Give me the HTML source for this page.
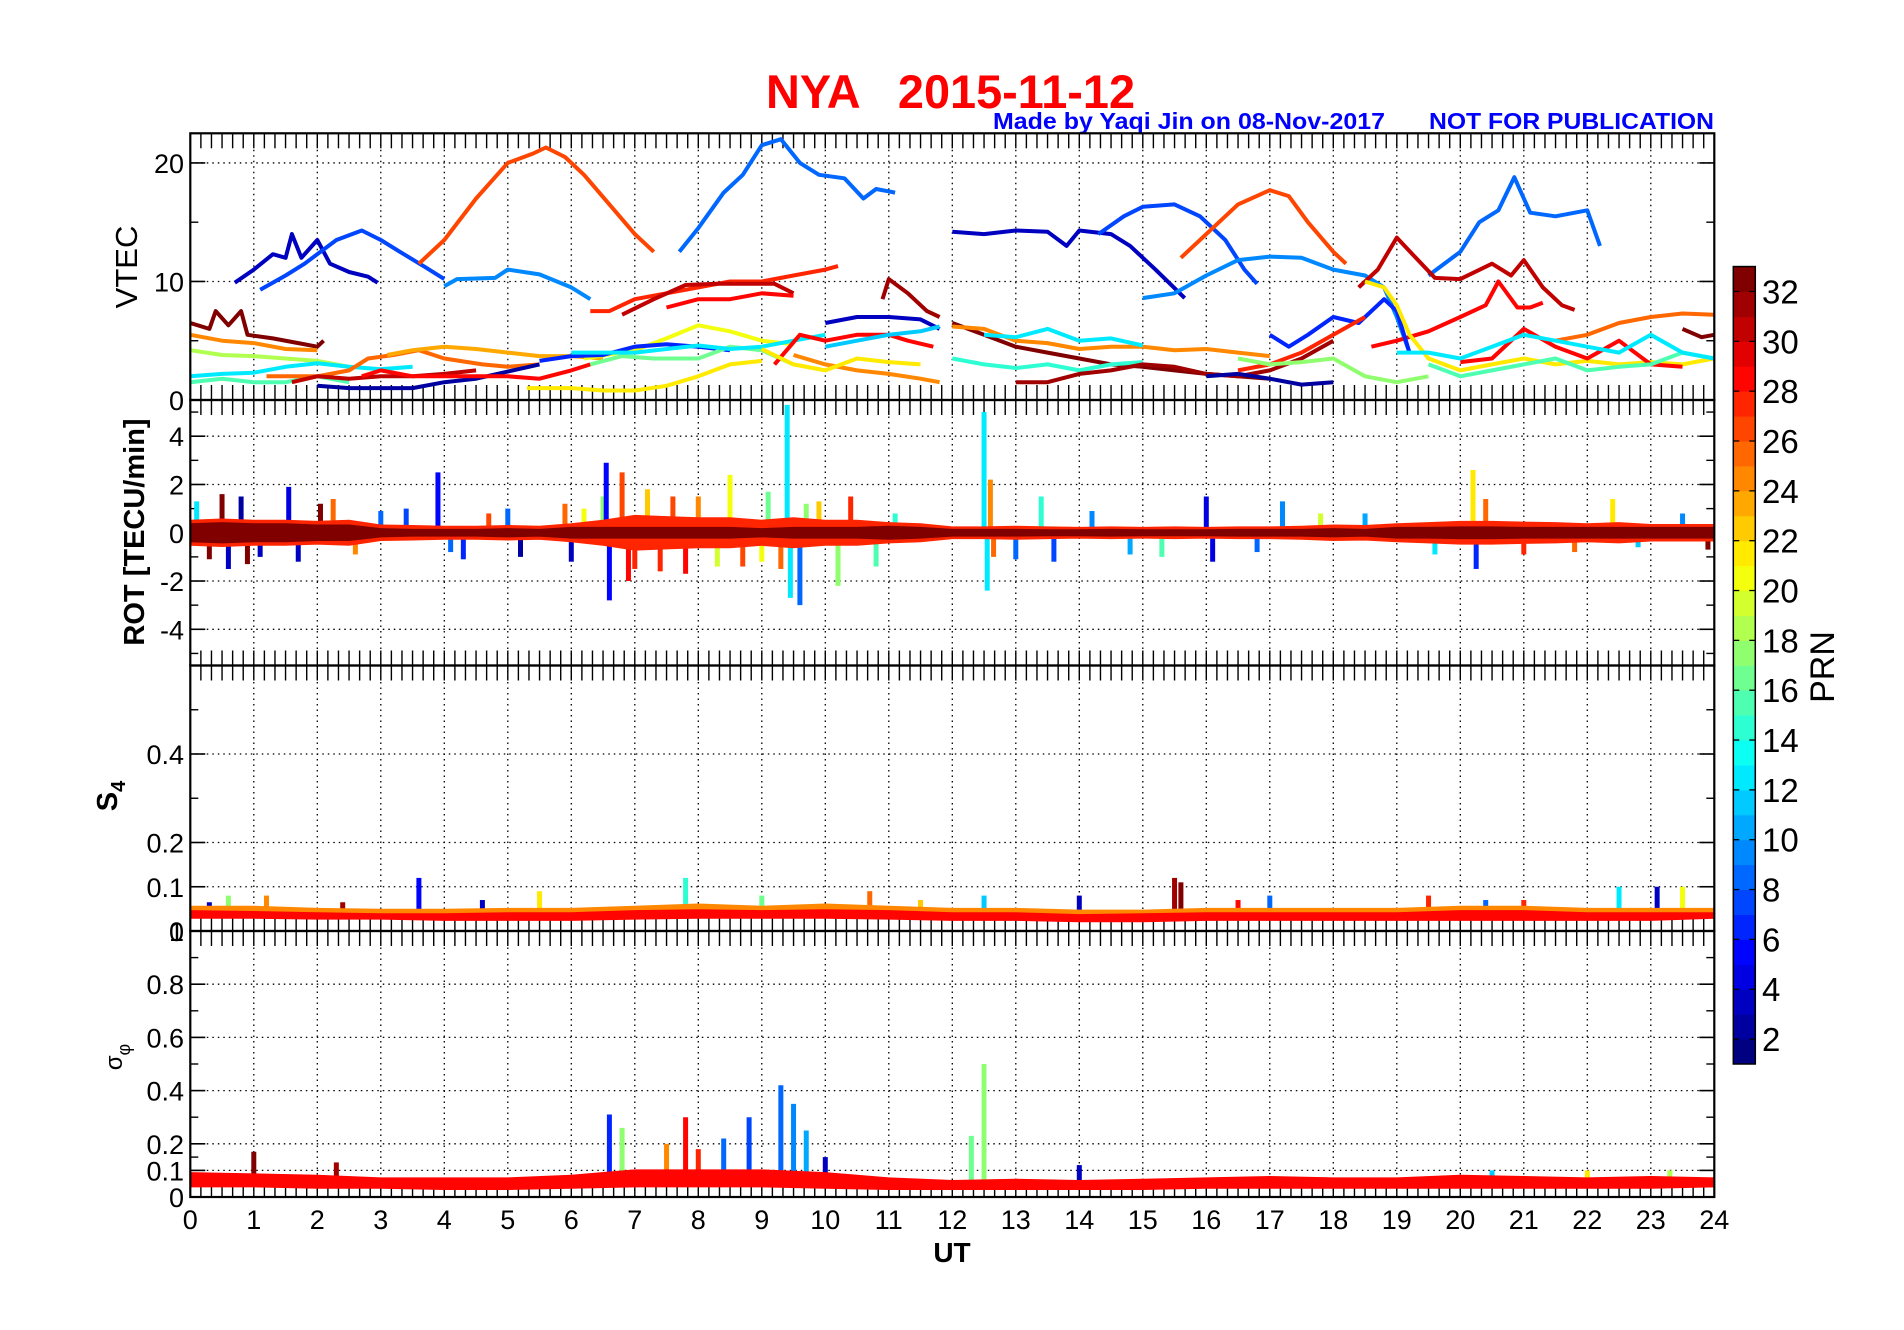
<!DOCTYPE html>
<html><head><meta charset="utf-8"><style>
html,body{margin:0;padding:0;background:#fff;}
svg{display:block;font-family:"Liberation Sans",Arial,sans-serif;}
</style></head><body>
<svg id="fig" width="1904" height="1330" viewBox="0 0 1904 1330" xmlns="http://www.w3.org/2000/svg">
<rect width="1904" height="1330" fill="#fff"/>
<text x="766" y="108" font-size="47" font-weight="bold" fill="#ff0000" textLength="369" lengthAdjust="spacingAndGlyphs" xml:space="preserve">NYA   2015-11-12</text>
<text x="993" y="129" font-size="23" font-weight="bold" fill="#0000ff" textLength="392" lengthAdjust="spacingAndGlyphs">Made by Yaqi Jin on 08-Nov-2017</text>
<text x="1429" y="129" font-size="23" font-weight="bold" fill="#0000ff" textLength="285" lengthAdjust="spacingAndGlyphs">NOT FOR PUBLICATION</text>
<g id="layer"></g>
</svg>
<script>
// ---------- data ----------
const xTickLabels = ["0","1","2","3","4","5","6","7","8","9","10","11","12","13","14","15","16","17","18","19","20","21","22","23","24"];
const vtecTicks = [0,10,20];
const rotTicks = [-4,-2,0,2,4];
const s4Ticks = [0,0.1,0.2,0.4];
const phiTicks = [0,0.1,0.2,0.4,0.6,0.8,1];
const cbarTicks = [2,4,6,8,10,12,14,16,18,20,22,24,26,28,30,32];

// VTEC tracks: PRN + [hour, TECU] points
const vtecPrn = [3,7,26,9,8,27,30,28,31,3,7,9,26,8,30,28,6,
  32,24,18,12,15,25,23,30,2,28,21,20,6,16,12,3,24,28,21,11,
  32,24,14,12,31,2,27,17,21,25,28,15,12,32];
const vtecTracks = [
 [[0.7,9.9],[1.0,11],[1.3,12.3],[1.5,12],[1.6,14],[1.75,12],[2.0,13.5],[2.2,11.5],[2.5,10.8],[2.8,10.4],[2.95,9.9]],
 [[1.1,9.3],[1.5,10.5],[1.8,11.5],[2.0,12.3],[2.3,13.5],[2.7,14.3],[3.0,13.5],[3.3,12.5],[3.7,11.2],[4.0,10.2]],
 [[3.6,11.5],[4.0,13.5],[4.5,17],[5.0,20],[5.4,20.8],[5.6,21.3],[5.9,20.5],[6.2,19],[6.6,16.5],[7.0,14],[7.3,12.5]],
 [[4.0,9.6],[4.2,10.2],[4.8,10.3],[5.0,11],[5.5,10.6],[6.0,9.5],[6.3,8.5]],
 [[7.7,12.5],[8.0,14.5],[8.4,17.5],[8.7,19],[9.0,21.5],[9.3,22],[9.6,20],[9.9,19],[10.3,18.7],[10.6,17],[10.8,17.8],[11.1,17.5]],
 [[6.3,7.5],[6.6,7.5],[7.0,8.5],[7.5,9],[8.0,9.5],[8.5,10],[9.0,10],[9.5,10.5],[10.0,11],[10.2,11.3]],
 [[6.8,7.2],[7.3,8.5],[7.8,9.7],[8.3,9.8],[8.8,9.8],[9.2,9.8],[9.5,9]],
 [[7.5,7.8],[8.0,8.5],[8.5,8.5],[9.0,9],[9.5,8.8]],
 [[10.9,8.5],[11.0,10.2],[11.3,9],[11.6,7.5],[11.8,7]],
 [[12.0,14.2],[12.5,14],[13.0,14.3],[13.5,14.2],[13.8,13],[14.0,14.3],[14.5,14],[14.8,13],[15.2,11],[15.66,8.6]],
 [[14.3,14],[14.7,15.5],[15.0,16.3],[15.5,16.5],[15.9,15.5],[16.3,13.5],[16.6,11],[16.8,9.8]],
 [[15.0,8.6],[15.5,9],[16.0,10.5],[16.5,11.8],[17.0,12.1],[17.5,12],[18.0,11],[18.5,10.5],[18.8,9.5],[19.0,7],[19.2,4]],
 [[15.6,12],[16.0,14],[16.5,16.5],[17.0,17.7],[17.3,17.2],[17.6,15],[18.0,12.5],[18.2,11.5]],
 [[19.5,10.5],[20.0,12.5],[20.3,15],[20.6,16],[20.85,18.8],[21.1,15.8],[21.5,15.5],[22.0,16],[22.2,13]],
 [[18.4,9.5],[18.7,11],[19.0,13.7],[19.3,12],[19.6,10.3],[20.0,10.2],[20.5,11.5],[20.8,10.5],[21.0,11.8],[21.3,9.5],[21.6,8],[21.8,7.6]],
 [[18.6,4.5],[19.0,5],[19.5,5.8],[20.0,7],[20.4,8],[20.6,10],[20.9,7.8],[21.1,7.8],[21.3,8.2]],
 [[17.0,5.5],[17.3,4.5],[17.6,5.5],[18.0,7],[18.4,6.5],[18.8,8.5],[19.0,7.5],[19.2,4]],
 [[0,6.5],[0.3,6],[0.4,7.5],[0.6,6.3],[0.8,7.5],[0.9,5.5],[1.3,5.2],[1.7,4.8],[2.0,4.5],[2.1,5]],
 [[0,5.5],[0.5,5],[1.0,4.8],[1.5,4.3],[2.0,4.2]],
 [[0,4.2],[0.5,3.8],[1.0,3.7],[1.5,3.5],[2.0,3.3],[2.5,2.8]],
 [[0,2],[0.5,2.2],[1,2.3],[1.5,2.8],[2,3.1],[2.5,2.8],[3,2.6],[3.5,2.8]],
 [[0,1.5],[0.5,1.8],[1,1.5],[1.5,1.5],[2,2],[2.5,1.5]],
 [[1.2,2],[2,2],[2.5,2.5],[2.8,3.5],[3.2,3.8],[3.6,4.2],[4.0,3.5],[4.6,3],[5.0,2.8],[5.5,3]],
 [[3.1,3.8],[3.5,4.2],[4.0,4.5],[4.5,4.3],[5.0,4],[5.5,3.7],[6.0,3.7],[6.5,3.5]],
 [[1.6,1.5],[2.0,2.0],[2.5,1.8],[3,2],[3.5,2],[4.0,2.2],[4.5,2.5]],
 [[2,1.2],[2.5,1],[3,1],[3.5,1],[4.0,1.5],[4.5,1.8],[5.0,2.4],[5.5,3]],
 [[2.7,2],[3.0,2.5],[3.5,2],[4.0,2],[5.0,2],[5.5,1.8],[6,2.5],[6.3,3]],
 [[5.3,1],[6,1],[6.5,0.8],[7,0.8],[7.5,1.2],[8,2],[8.5,3],[9,3.3]],
 [[6.2,3.5],[7,4.2],[7.5,5.2],[8,6.3],[8.5,5.8],[9,5],[9.5,4.7]],
 [[5.5,3.3],[6,3.7],[6.5,3.8],[7,4.5],[7.5,4.7],[8,4.5],[8.5,4.2]],
 [[6.3,3],[6.8,3.7],[7.3,3.5],[8,3.5],[8.5,4.5],[9,4.2],[9.5,3]],
 [[6,4],[7,4],[7.5,4.3],[8,4.6],[8.5,4.3],[9,4.5],[9.5,5],[10,5.5]],
 [[10,6.5],[10.5,7],[11,7],[11.5,6.8],[11.8,6]],
 [[9.5,3.8],[10,3],[10.5,2.5],[11,2.2],[11.5,1.8],[11.8,1.5]],
 [[9.2,3],[9.6,5.5],[10,5],[10.5,5.5],[11,5.5],[11.3,5],[11.7,4.5]],
 [[9,4.3],[9.5,3],[10,2.5],[10.5,3.5],[11,3.2],[11.5,3]],
 [[10,4.5],[10.5,5],[11,5.5],[11.5,5.8],[11.8,6.2]],
 [[12,6.5],[12.5,5.5],[13,4.5],[13.5,4],[14,3.5],[14.5,3],[15,2.8],[15.5,2.5],[16,2.2],[16.5,2],[17,1.8]],
 [[12,6.2],[12.5,6],[13,5],[13.5,4.8],[14,4.3],[14.5,4.5],[15,4.5],[15.5,4.2],[16,4.3],[16.5,4],[17,3.7]],
 [[12,3.5],[12.5,3],[13,2.7],[13.5,3],[14,2.5],[14.5,3],[15,3.2]],
 [[12.5,5.5],[13,5.3],[13.5,6],[14,5],[14.5,5.2],[15,4.6]],
 [[13,1.5],[13.5,1.5],[14,2.2],[14.5,2.5],[15,3],[15.5,2.8],[16,2.2],[16.5,2],[17,2.5],[17.5,3.5],[18,5]],
 [[16,2],[16.5,2.2],[17,1.8],[17.5,1.3],[18,1.5]],
 [[16.5,2.5],[17,3],[17.5,4],[18,5.5],[18.5,7]],
 [[16.5,3.5],[17,3],[17.5,3.2],[18,3.5],[18.5,2],[19,1.5],[19.5,2]],
 [[18.5,10],[18.8,9.5],[19,8],[19.2,5.5],[19.5,3.5],[20,2.5],[20.5,3],[21,3.5],[21.5,3],[22,3.3],[22.5,3],[23,3.2],[23.5,3],[24,3.5]],
 [[21.5,5],[22,5.5],[22.5,6.5],[23,7],[23.5,7.3],[24,7.2]],
 [[20,3.2],[20.5,3.5],[21,6],[21.5,4.5],[22,3.5],[22.5,5],[23,3],[23.5,2.8]],
 [[19.5,3],[20,2],[20.5,2.5],[21,3],[21.5,3.5],[22,2.5],[22.5,2.8],[23,3],[23.5,4],[24,3.5]],
 [[19,4],[19.5,4],[20,3.5],[20.5,4.5],[21,5.5],[21.5,5],[22,4.5],[22.5,4],[23,5.5],[23.5,4],[24,3.5]],
 [[23.5,6],[23.8,5.3],[24,5.5]]
];

// ROT band amplitudes every half hour (0..24)
const rotAmpRed = [0.5,0.55,0.5,0.5,0.45,0.5, 0.3,0.28,0.25,0.25,0.28,0.25, 0.35,0.5,0.7,0.65,0.6,0.6,0.5,0.6,0.5,0.5, 0.4,0.35, 0.22,0.22,0.25,0.22,0.2,0.22,0.2,0.22,0.2,0.22,0.22,0.25,0.3,0.28, 0.35,0.4,0.45,0.45,0.42,0.4,0.35,0.4,0.32,0.32, 0.32];
const rotAmpDark = [0.35,0.4,0.35,0.35,0.3,0.3, 0.15,0.12,0.12,0.12,0.15,0.12, 0.2,0.2,0.2,0.2,0.2,0.2,0.15,0.2,0.2,0.2, 0.25,0.2, 0.12,0.12,0.12,0.1,0.1,0.12,0.1,0.1,0.1,0.12,0.12,0.12,0.15,0.12, 0.2,0.2,0.22,0.22,0.2,0.2,0.2,0.2,0.2,0.2, 0.2];
const rotSpikeT = [0.1,0.3,0.5,0.6,0.8,0.9,1.1,1.55,1.7,2.05,2.25,2.6,3.0,3.4,3.9,4.1,4.3,4.7,5.0,5.2,5.9,6.0,6.2,6.5,6.55,6.6,6.8,6.9,7.0,7.2,7.4,7.6,7.8,8.0,8.3,8.5,8.7,9.0,9.1,9.3,9.4,9.45,9.6,9.7,9.9,10.2,10.4,10.8,11.1,12.5,12.55,12.6,12.65,13.0,13.4,13.6,14.2,14.8,15.3,16.0,16.1,16.8,17.2,17.8,18.5,19.6,20.2,20.25,20.4,21.0,21.8,22.4,22.8,23.5,23.9];
const rotSpikeV = [1.3,-1.1,1.6,-1.5,1.5,-1.3,-1.0,1.9,-1.2,1.2,1.4,-0.9,0.9,1.0,2.5,-0.8,-1.1,0.8,1.0,-1.0,1.2,-1.2,1.0,1.5,2.9,-2.8,2.5,-2.0,-1.5,1.8,-1.6,1.5,-1.7,1.5,-1.4,2.4,-1.4,-1.2,1.7,-1.5,5.3,-2.7,-3.0,1.2,1.3,-2.2,1.5,-1.4,0.8,5.0,-2.4,2.2,-1.0,-1.1,1.5,-1.2,0.9,-0.9,-1.0,1.5,-1.2,-0.8,1.3,0.8,0.8,-0.9,2.6,-1.5,1.4,-0.9,-0.8,1.4,-0.6,0.8,-0.7];
const rotSpikePrn = [12,32,32,3,2,32,3,4,3,32,25,24,8,7,5,8,6,26,8,2,25,3,20,17,5,5,26,28,27,22,27,26,28,24,19,20,26,20,16,25,12,12,8,17,22,17,27,15,14,12,12,24,25,8,14,7,9,10,15,4,4,8,9,19,10,12,21,6,25,27,25,21,11,9,32];

// S4 bands (hourly) and spikes
const s4OrangeLo = [0.035,0.035,0.033,0.033,0.03,0.03,0.03,0.033,0.035,0.035,0.035,0.033,0.03,0.03,0.028,0.028,0.03,0.03,0.03,0.03,0.03,0.03,0.03,0.03,0.035];
const s4OrangeHi = [0.055,0.055,0.05,0.048,0.048,0.05,0.05,0.055,0.06,0.055,0.06,0.055,0.05,0.05,0.046,0.046,0.05,0.05,0.05,0.05,0.055,0.055,0.05,0.05,0.05];
const s4RedLo = [0.03,0.03,0.028,0.028,0.025,0.025,0.025,0.028,0.03,0.03,0.03,0.028,0.025,0.025,0.022,0.022,0.025,0.025,0.025,0.025,0.025,0.025,0.025,0.025,0.03];
const s4RedHi = [0.045,0.043,0.04,0.038,0.038,0.04,0.04,0.045,0.047,0.045,0.047,0.045,0.04,0.04,0.036,0.038,0.04,0.04,0.04,0.04,0.045,0.045,0.04,0.04,0.04];
const s4SpikeT = [0.3,0.6,1.2,2.4,3.6,4.6,5.5,7.8,9.0,10.7,11.5,12.5,14.0,15.5,15.6,16.5,17.0,19.5,20.4,21.0,22.5,23.1,23.5];
const s4SpikeV = [0.065,0.08,0.08,0.065,0.12,0.07,0.09,0.12,0.08,0.09,0.07,0.08,0.08,0.12,0.11,0.07,0.08,0.08,0.07,0.07,0.1,0.1,0.1];
const s4SpikePrn = [3,17,24,31,5,3,21,14,16,25,22,11,3,31,32,28,8,27,8,27,12,3,20];

// sigma-phi bands (hourly) and spikes
const phiLo = [0.04,0.04,0.035,0.035,0.03,0.03,0.035,0.04,0.04,0.04,0.035,0.03,0.03,0.03,0.03,0.03,0.035,0.035,0.035,0.035,0.035,0.035,0.035,0.035,0.04];
const phiHi = [0.09,0.085,0.08,0.07,0.07,0.07,0.08,0.1,0.1,0.1,0.09,0.07,0.06,0.065,0.06,0.065,0.07,0.075,0.07,0.07,0.08,0.075,0.07,0.075,0.07];
const phiSpikeT = [1.0,2.3,6.6,6.8,7.5,7.8,8.0,8.4,8.8,9.3,9.5,9.7,10.0,12.3,12.5,14.0,20.5,22.0,23.3];
const phiSpikeV = [0.17,0.13,0.31,0.26,0.2,0.3,0.18,0.22,0.3,0.42,0.35,0.25,0.15,0.23,0.5,0.12,0.1,0.1,0.1];
const phiSpikePrn = [32,31,6,17,24,28,27,8,7,8,9,10,3,16,17,3,11,21,18];

// ---------- helpers ----------
const NS = "http://www.w3.org/2000/svg";
const layer = document.getElementById("layer");
function mk(tag, attrs, parent){ const e=document.createElementNS(NS,tag); for(const k in attrs) e.setAttribute(k,attrs[k]); (parent||layer).appendChild(e); return e; }
function jet(prn){ const v=(prn-1)/31; const c=x=>Math.round(255*Math.max(0,Math.min(1,1.5-Math.abs(x)))); return `rgb(${c(4*v-3)},${c(4*v-2)},${c(4*v-1)})`; }
const X0=190.3, X1=1714.3;
const xs = t => X0 + t*(X1-X0)/24;
const panels = {
 vtec:{top:133.3,bot:400,min:0,max:22.5},
 rot:{top:400,bot:665.5,min:-5.5,max:5.5},
 s4:{top:665.5,bot:931,min:0,max:0.6},
 phi:{top:931,bot:1197,min:0,max:1}
};
function ys(p,v){ return p.bot - (v-p.min)/(p.max-p.min)*(p.bot-p.top); }

const defs = mk("defs",{});
for(const k in panels){ const p=panels[k]; const cp=mk("clipPath",{id:"clip-"+k},defs); mk("rect",{x:X0,y:p.top,width:X1-X0,height:p.bot-p.top},cp); }

function drawFrame(key, ticks, minors, labelFmt){
  const p=panels[key];
  const g=mk("g",{});
  
  
  for(let h=1;h<24;h++) mk("line",{x1:xs(h),x2:xs(h),y1:p.top,y2:p.bot,stroke:"#000","stroke-width":1.3,"stroke-dasharray":"1.5,4"},g);
  ticks.forEach(v=>{ const y=ys(p,v); if(y>p.top+1 && y<p.bot-1) mk("line",{x1:X0,x2:X1,y1:y,y2:y,stroke:"#000","stroke-width":1.3,"stroke-dasharray":"1.5,4"},g); });
  for(let i=0;i<=144;i++){ const x=xs(i/6);
    mk("line",{x1:x,x2:x,y1:p.top,y2:p.top+15,stroke:"#000","stroke-width":1.4},g);
    mk("line",{x1:x,x2:x,y1:p.bot,y2:p.bot-15,stroke:"#000","stroke-width":1.4},g); }
  ticks.forEach(v=>{ const y=ys(p,v);
    mk("line",{x1:X0,x2:X0+15,y1:y,y2:y,stroke:"#000","stroke-width":1.6},g);
    mk("line",{x1:X1,x2:X1-15,y1:y,y2:y,stroke:"#000","stroke-width":1.6},g);
    const t=mk("text",{x:184,y:y+10,"font-size":27,"text-anchor":"end",fill:"#000"},g); t.textContent=labelFmt(v);
    
    
  });
  minors.forEach(v=>{ const y=ys(p,v);
    mk("line",{x1:X0,x2:X0+8,y1:y,y2:y,stroke:"#000","stroke-width":1.4},g);
    mk("line",{x1:X1,x2:X1-8,y1:y,y2:y,stroke:"#000","stroke-width":1.4},g); });
}
drawFrame("vtec",vtecTicks,[5,15],v=>String(v));
drawFrame("rot",rotTicks,[-5,-3,-1,1,3,5],v=>String(v));
drawFrame("s4",s4Ticks,[0.3,0.5],v=>String(v));
drawFrame("phi",phiTicks,[0.15,0.3,0.5,0.7,0.9],v=>String(v));

const gv=mk("g",{"clip-path":"url(#clip-vtec)"});


vtecTracks.forEach((tr,i)=>{
  const d=tr.map((pt,j)=>(j?"L":"M")+xs(pt[0]).toFixed(1)+","+ys(panels.vtec,pt[1]).toFixed(1)).join("");
  const e=mk("path",{d:d,fill:"none",stroke:jet(vtecPrn[i]),"stroke-width":4,"stroke-linejoin":"round"},gv);
  
  
});

function band(group,key,lo,hi,step,prn,name){
  const p=panels[key]; let up="",dn="";
  hi.forEach((v,i)=>{ up+=(i?"L":"M")+xs(i*step).toFixed(1)+","+ys(p,v).toFixed(1); });
  for(let i=lo.length-1;i>=0;i--) dn+="L"+xs(i*step).toFixed(1)+","+ys(p,lo[i]).toFixed(1);
  const e=mk("path",{d:up+dn+"Z",fill:jet(prn),stroke:jet(prn),"stroke-width":2},group);
  
  
}
function spikes(group,key,ts,vs,ps,base,name){
  const p=panels[key];
  ts.forEach((t,i)=>{ const e=mk("line",{x1:xs(t),x2:xs(t),y1:ys(p,base),y2:ys(p,vs[i]),stroke:jet(ps[i]),"stroke-width":5},group);
    
     });
}

const gr=mk("g",{"clip-path":"url(#clip-rot)"});


spikes(gr,"rot",rotSpikeT,rotSpikeV,rotSpikePrn,0,"rot-spike");
band(gr,"rot",rotAmpRed.map(a=>-a),rotAmpRed,0.5,27,"rot-band-red");
band(gr,"rot",rotAmpDark.map(a=>-a),rotAmpDark,0.5,32,"rot-band-darkred");

const gs=mk("g",{"clip-path":"url(#clip-s4)"});


spikes(gs,"s4",s4SpikeT,s4SpikeV,s4SpikePrn,0.04,"s4-spike");
band(gs,"s4",s4OrangeLo,s4OrangeHi,1,24,"s4-band-orange");
band(gs,"s4",s4RedLo,s4RedHi,1,28,"s4-band-red");

const gp=mk("g",{"clip-path":"url(#clip-phi)"});


spikes(gp,"phi",phiSpikeT,phiSpikeV,phiSpikePrn,0.05,"sigma-phi-spike");
band(gp,"phi",phiLo,phiHi,1,28,"sigma-phi-band");

for(const k in panels){ const p=panels[k];
  const r=mk("rect",{x:X0,y:p.top,width:X1-X0,height:p.bot-p.top,fill:"none",stroke:"#000","stroke-width":2.2});
  
   }

xTickLabels.forEach((s,i)=>{ const t=mk("text",{x:xs(i),y:1229,"font-size":27,"text-anchor":"middle",fill:"#000"}); t.textContent=s;
  
   });
const ut=mk("text",{x:952,y:1262,"font-size":28,"font-weight":"bold","text-anchor":"middle"}); ut.textContent="UT";



function ytitle(x,y,txt,size,weight,name){ const t=mk("text",{x:0,y:0,"font-size":size,"font-weight":weight,"text-anchor":"middle",transform:`translate(${x},${y}) rotate(-90)`}); t.textContent=txt;
  
   return t; }
ytitle(137,267,"VTEC",31,"normal","vtec-axis-title");
ytitle(144,532,"ROT [TECU/min]",29,"bold","rot-axis-title");
const s4t=mk("text",{x:0,y:0,"font-size":29,"font-weight":"bold","text-anchor":"middle",transform:"translate(117,796) rotate(-90)"});


const s4a=mk("tspan",{},s4t); s4a.textContent="S";
const s4b=mk("tspan",{dy:8,"font-size":20},s4t); s4b.textContent="4";
const pt=mk("text",{x:0,y:0,"font-size":24,"text-anchor":"middle",transform:"translate(122,1057) rotate(-90)"});


const pa=mk("tspan",{},pt); pa.textContent="σ";
const pb=mk("tspan",{dy:8,"font-size":18},pt); pb.textContent="φ";

const CB_B=1064, CB_U=24.92, CBX=1733.3, CBW=22;
const cb=mk("g",{});


for(let n=1;n<=32;n++){ mk("rect",{x:CBX,y:CB_B-n*CB_U,width:CBW,height:CB_U+0.5,fill:jet(n)},cb); }
mk("rect",{x:CBX,y:CB_B-32*CB_U,width:CBW,height:32*CB_U,fill:"none",stroke:"#000","stroke-width":1.5},cb);
cbarTicks.forEach(v=>{ const y=CB_B-(v-1)*CB_U;
  mk("line",{x1:CBX,x2:CBX+6,y1:y,y2:y,stroke:"#000","stroke-width":1.3},cb);
  mk("line",{x1:CBX+CBW,x2:CBX+CBW-6,y1:y,y2:y,stroke:"#000","stroke-width":1.3},cb);
  const t=mk("text",{x:1762,y:y+12,"font-size":33,fill:"#000"},cb); t.textContent=String(v);
  
   });
const prn=mk("text",{x:0,y:0,"font-size":34,"text-anchor":"middle",transform:"translate(1834,667) rotate(-90)"}); prn.textContent="PRN";


</script>
</body></html>
